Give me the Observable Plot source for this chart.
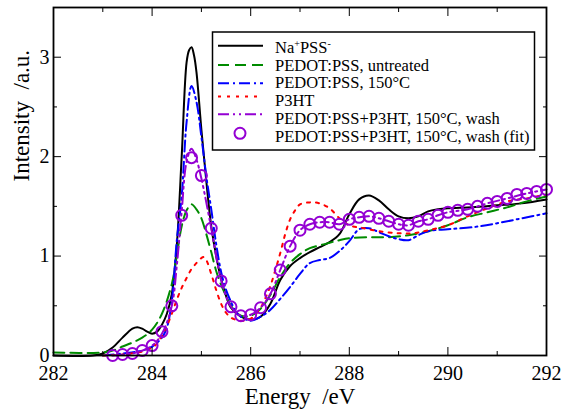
<!DOCTYPE html>
<html>
<head>
<meta charset="utf-8">
<script src="https://cdn.jsdelivr.net/npm/d3@7"></script>
<script src="https://cdn.jsdelivr.net/npm/@observablehq/plot@0.6"></script>
<style>
  html, body { margin: 0; padding: 0; background: white; }
  #wrap { position: relative; width: 564px; height: 412px; font-family: "Liberation Serif", serif; }
  #legend { position: absolute; left: 0; top: 0; pointer-events: none; }
</style>
</head>
<body>
<div id="wrap"></div>
<script>
// ---- data ----
const energyBlack = [282.0,282.8,283.0,283.2,283.4,283.6,283.7,283.8,283.9,284.0,284.1,284.2,284.3,284.4,284.5,284.6,284.7,284.75,284.8,284.85,284.9,285.0,285.1,285.2,285.3,285.4,285.5,285.6,285.8,286.0,286.2,286.4,286.6,286.8,287.0,287.2,287.4,287.6,287.8,288.0,288.2,288.4,288.6,288.8,289.0,289.2,289.4,289.6,289.8,290.0,290.5,291.0,291.5,292.0];
const naPSS = [0,0,0.02,0.08,0.18,0.27,0.285,0.27,0.24,0.22,0.24,0.31,0.42,0.62,1.1,2.0,2.95,3.07,3.10,3.02,2.85,2.27,1.75,1.30,1.0,0.77,0.60,0.48,0.39,0.36,0.39,0.52,0.76,0.90,0.98,1.04,1.09,1.14,1.22,1.42,1.57,1.61,1.56,1.47,1.40,1.38,1.40,1.45,1.47,1.48,1.49,1.51,1.53,1.57];

const energyGreen = [282.0,283.0,283.2,283.4,283.6,283.8,284.0,284.2,284.4,284.5,284.6,284.7,284.8,284.9,285.0,285.1,285.2,285.3,285.4,285.5,285.6,285.8,286.0,286.2,286.4,286.6,286.8,287.0,287.2,287.5,287.8,288.0,288.4,288.8,289.2,289.6,290.0,290.4,290.8,291.2,291.6,292.0];
const pedotUntreated = [0.03,0.03,0.05,0.09,0.13,0.18,0.26,0.42,0.72,1.0,1.3,1.46,1.52,1.47,1.38,1.22,1.04,0.85,0.71,0.60,0.50,0.40,0.40,0.47,0.61,0.79,0.93,1.02,1.08,1.12,1.16,1.18,1.19,1.19,1.21,1.25,1.31,1.39,1.44,1.49,1.55,1.60];

const energyBlue = [283.0,283.4,283.8,284.0,284.2,284.3,284.4,284.5,284.6,284.7,284.8,284.9,285.0,285.1,285.2,285.3,285.4,285.5,285.6,285.7,285.8,286.0,286.2,286.4,286.6,286.8,287.0,287.2,287.4,287.6,287.8,288.0,288.2,288.4,288.6,288.8,289.0,289.2,289.4,289.6,290.0,290.5,291.0,291.5,292.0];
const pedot150 = [0,0.02,0.05,0.09,0.18,0.28,0.55,1.15,1.6,2.35,2.71,2.55,2.2,1.8,1.47,1.12,0.84,0.66,0.54,0.44,0.39,0.35,0.39,0.46,0.57,0.69,0.82,0.93,0.96,0.98,1.05,1.15,1.27,1.28,1.24,1.20,1.17,1.16,1.21,1.25,1.27,1.29,1.33,1.38,1.43];

const energyRed = [283.0,283.4,283.8,284.0,284.1,284.2,284.3,284.4,284.5,284.6,284.7,284.8,284.9,285.0,285.05,285.1,285.2,285.3,285.4,285.5,285.6,285.8,286.0,286.2,286.3,286.4,286.5,286.6,286.7,286.8,286.9,287.0,287.2,287.4,287.6,287.8,288.0,288.3,288.6,289.0,289.3,289.6,290.0,290.4,290.8,291.2,291.6,292.0];
const p3ht = [0,0.01,0.04,0.08,0.12,0.2,0.30,0.42,0.56,0.68,0.78,0.87,0.93,0.98,0.99,0.96,0.82,0.66,0.52,0.43,0.38,0.35,0.37,0.48,0.58,0.70,0.86,1.03,1.22,1.37,1.46,1.52,1.54,1.53,1.48,1.38,1.31,1.28,1.25,1.23,1.23,1.26,1.31,1.40,1.48,1.55,1.58,1.62];

const energyPurple = [283.2,283.6,284.0,284.2,284.4,284.5,284.6,284.7,284.8,284.9,285.0,285.2,285.4,285.6,285.8,286.0,286.2,286.4,286.6,286.8,287.0,287.2,287.4,287.6,287.8,288.0,288.2,288.4,288.6,288.8,289.0,289.2,289.4,289.6,289.8,290.0,290.4,290.8,291.2,291.6,292.0];
const blendWash = [0,0.02,0.1,0.22,0.5,0.9,1.45,1.95,2.08,1.97,1.78,1.28,0.76,0.49,0.40,0.41,0.48,0.62,0.86,1.10,1.26,1.32,1.34,1.34,1.32,1.37,1.39,1.40,1.38,1.35,1.32,1.31,1.35,1.37,1.41,1.44,1.47,1.53,1.58,1.63,1.67];

const energyFit = [283.2,283.4,283.6,283.8,284.0,284.2,284.4,284.6,284.8,285.0,285.2,285.4,285.6,285.8,286.0,286.2,286.4,286.6,286.8,287.0,287.2,287.4,287.6,287.8,288.0,288.2,288.4,288.6,288.8,289.0,289.2,289.4,289.6,289.8,290.0,290.2,290.4,290.6,290.8,291.0,291.2,291.4,291.6,291.8,292.0];
const blendWashFit = [0.0,0.01,0.02,0.05,0.10,0.24,0.50,1.41,1.99,1.81,1.28,0.75,0.49,0.40,0.41,0.48,0.62,0.86,1.10,1.26,1.32,1.34,1.34,1.32,1.37,1.39,1.40,1.38,1.35,1.32,1.31,1.35,1.37,1.41,1.44,1.46,1.47,1.50,1.53,1.55,1.58,1.62,1.63,1.65,1.67];

const xMajor = [282,284,286,288,290,292];
const xMinor = [283,285,287,289,291];
const yMajor = [0,1,2,3];
const yMinor = [0.5,1.5,2.5];

const seriesNames = ["Na+PSS-","PEDOT:PSS, untreated","PEDOT:PSS, 150°C","P3HT","PEDOT:PSS+P3HT, 150°C, wash","PEDOT:PSS+P3HT, 150°C, wash (fit)"];
const seriesColors = ["#000000","#008b00","#0000ff","#ff0000","#9400d3","#9400d3"];
const seriesDash = [null,"11,6","11,4,2,4","3,6","11,4,2,4,2,4",null];

const xTitle = "Energy\u00a0\u00a0/eV";
const yTitle = "Intensity\u00a0\u00a0/a.u.";

// ---- build ----
const serif = "Liberation Serif";
const zip = (xs, ys) => xs.map((x, i) => ({x, y: ys[i]}));
const lineSets = [
  zip(energyBlack, naPSS),
  zip(energyGreen, pedotUntreated),
  zip(energyBlue, pedot150),
  zip(energyRed, p3ht),
  zip(energyPurple, blendWash)
];
const fitPts = zip(energyFit, blendWashFit);

const lineMarks = lineSets.map((d, i) => Plot.line(d, {
  x: "x", y: "y", stroke: seriesColors[i], strokeWidth: 2,
  strokeDasharray: seriesDash[i] || undefined, curve: "catmull-rom"
}));

const chart = Plot.plot({
  width: 564, height: 412,
  marginLeft: 53, marginRight: 18, marginTop: 7, marginBottom: 57,
  x: {domain: [282, 292]},
  y: {domain: [0, 3.5]},
  style: {fontFamily: serif, fontSize: "20px", color: "black", background: "white"},
  marks: [
    ...lineMarks,
    Plot.dot(fitPts, {x: "x", y: "y", r: 5.5, stroke: seriesColors[5], strokeWidth: 2, fill: "none"}),
    // inward major/minor ticks on all four sides
    Plot.axisX(xMajor, {anchor: "bottom", tickSize: 8, dy: -8, fill: "none", label: null}),
    Plot.axisX(xMinor, {anchor: "bottom", tickSize: 4, dy: -4, fill: "none", label: null}),
    Plot.axisX(xMajor, {anchor: "top", tickSize: 8, dy: 8, fill: "none", label: null}),
    Plot.axisX(xMinor, {anchor: "top", tickSize: 4, dy: 4, fill: "none", label: null}),
    Plot.axisY(yMajor, {anchor: "left", tickSize: 8, dx: 8, fill: "none", label: null}),
    Plot.axisY(yMinor, {anchor: "left", tickSize: 4, dx: 4, fill: "none", label: null}),
    Plot.axisY(yMajor, {anchor: "right", tickSize: 8, dx: -8, fill: "none", label: null}),
    Plot.axisY(yMinor, {anchor: "right", tickSize: 4, dx: -4, fill: "none", label: null}),
    // tick labels
    Plot.axisX(xMajor, {anchor: "bottom", tickSize: 0, tickPadding: 10, label: null, tickFormat: d => String(d), fontSize: 20}),
    Plot.axisY(yMajor, {anchor: "left", tickSize: 0, tickPadding: 4, label: null, tickFormat: d => String(d), fontSize: 20}),
    Plot.frame({stroke: "black", strokeWidth: 1.8}),
    Plot.text([xTitle], {text: d => d, frameAnchor: "bottom", dy: 48, fontSize: 23}),
    Plot.text([yTitle], {text: d => d, frameAnchor: "left", dx: -32, rotate: -90, fontSize: 23})
  ]
});

const wrap = document.getElementById("wrap");
wrap.appendChild(chart);

// ---- legend (overlay) ----
const ns = "http://www.w3.org/2000/svg";
const lg = document.createElementNS(ns, "svg");
lg.setAttribute("id", "legend");
lg.setAttribute("width", 564);
lg.setAttribute("height", 412);
const box = {x: 212.5, y: 32, w: 322, h: 118};
const rect = document.createElementNS(ns, "rect");
rect.setAttribute("x", box.x); rect.setAttribute("y", box.y);
rect.setAttribute("width", box.w); rect.setAttribute("height", box.h);
rect.setAttribute("fill", "white"); rect.setAttribute("stroke", "black"); rect.setAttribute("stroke-width", 1.5);
lg.appendChild(rect);
const sampleY = [45.7, 65, 83.3, 96.5, 114.3, 133.3];
const baseY = [53, 70.7, 88.4, 106.1, 123.8, 141.5];
seriesNames.forEach((name, i) => {
  if (i < 5) {
    const ln = document.createElementNS(ns, "line");
    ln.setAttribute("x1", 218); ln.setAttribute("x2", 263);
    ln.setAttribute("y1", sampleY[i]); ln.setAttribute("y2", sampleY[i]);
    ln.setAttribute("stroke", seriesColors[i]); ln.setAttribute("stroke-width", 2);
    if (seriesDash[i]) ln.setAttribute("stroke-dasharray", seriesDash[i]);
    lg.appendChild(ln);
  } else {
    const c = document.createElementNS(ns, "circle");
    c.setAttribute("cx", 240); c.setAttribute("cy", sampleY[i]); c.setAttribute("r", 5.5);
    c.setAttribute("fill", "none"); c.setAttribute("stroke", seriesColors[i]); c.setAttribute("stroke-width", 2);
    lg.appendChild(c);
  }
  const t = document.createElementNS(ns, "text");
  t.setAttribute("x", 275); t.setAttribute("y", baseY[i]);
  t.setAttribute("font-family", serif);
  t.setAttribute("font-size", 16.5);
  if (i === 0) {
    const parts = [["Na", false], ["+", true], ["PSS", false], ["-", true]];
    parts.forEach(([s, sup]) => {
      const ts = document.createElementNS(ns, "tspan");
      ts.textContent = s;
      if (sup) { ts.setAttribute("font-size", 10); ts.setAttribute("dy", "-6"); }
      else if (s === "PSS") { ts.setAttribute("dy", "6"); }
      t.appendChild(ts);
    });
  } else {
    t.textContent = name;
  }
  lg.appendChild(t);
});
wrap.appendChild(lg);
</script>
</body>
</html>
